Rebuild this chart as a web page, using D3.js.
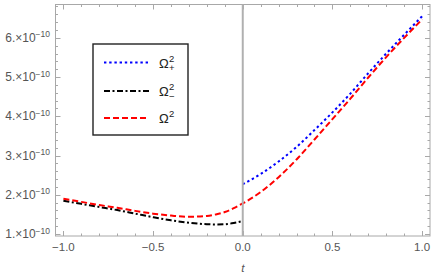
<!DOCTYPE html>
<html><head><meta charset="utf-8">
<script src="https://cdn.jsdelivr.net/npm/d3@7"></script>
<style>
html,body{margin:0;padding:0;background:#fff;}
svg{display:block;font-family:"Liberation Sans",Arial,sans-serif;}
</style></head>
<body>
<svg id="chart" width="436" height="280"></svg>
<script>
// ---- data (values in units of 1e-10) ----
const tLeft = [-1.0, -0.9, -0.8, -0.7, -0.6, -0.5, -0.4, -0.3, -0.2, -0.15, -0.1, -0.05, 0.0];
const omegaMinusSq = [1.85, 1.77, 1.69, 1.61, 1.52, 1.43, 1.35, 1.29, 1.25, 1.245, 1.25, 1.28, 1.33];
const omegaSqLeft = [1.90, 1.82, 1.74, 1.67, 1.59, 1.52, 1.47, 1.44, 1.46, 1.50, 1.56, 1.66, 1.78];
const tRight = [0.0, 0.1, 0.2, 0.3, 0.4, 0.5, 0.6, 0.7, 0.8, 0.9, 1.0];
const omegaPlusSq = [2.27, 2.53, 2.85, 3.22, 3.65, 4.10, 4.58, 5.10, 5.60, 6.08, 6.55];
const omegaSqRight = [1.78, 2.07, 2.45, 2.90, 3.41, 3.93, 4.45, 4.99, 5.51, 6.00, 6.47];
const xTicks = [-1.0, -0.5, 0.0, 0.5, 1.0];
const xTickLabels = ["\u22121.0", "\u22120.5", "0.0", "0.5", "1.0"];
const yTicks = [1, 2, 3, 4, 5, 6];
const yTickLabels = ["1.", "2.", "3.", "4.", "5.", "6."];
const legendLabels = [
  {base: "\u03A9", sup: "2", sub: "+"},
  {base: "\u03A9", sup: "2", sub: "\u2212"},
  {base: "\u03A9", sup: "2", sub: ""}
];
const xLabel = "t";

// ---- layout ----
const svg = d3.select("#chart");
const L = 55.5, R = 430, T = 4.5, B = 236;
const x = d3.scaleLinear().domain([-1.044, 1.044]).range([L, R]);
const y = d3.scaleLinear().domain([0.95, 6.85]).range([B, T]);
const frameColor = "#a8a8a8";
const textColor = "#555";

// frame
svg.append("rect").attr("x", L).attr("y", T).attr("width", R - L).attr("height", B - T)
  .attr("fill", "none").attr("stroke", frameColor).attr("stroke-width", 1);

// ticks
const xMinor = d3.range(-1.0, 1.0001, 0.1).map(v => +v.toFixed(2));
const yMinor = d3.range(1.0, 6.8001, 0.2).map(v => +v.toFixed(2));
const tickG = svg.append("g").attr("stroke", frameColor).attr("stroke-width", 1);
xMinor.forEach(v => {
  const major = xTicks.some(m => Math.abs(m - v) < 1e-6);
  const len = major ? 5 : 2.5;
  const px = Math.round(x(v)) + 0.5;
  tickG.append("line").attr("x1", px).attr("x2", px).attr("y1", B).attr("y2", B - len);
  tickG.append("line").attr("x1", px).attr("x2", px).attr("y1", T).attr("y2", T + len);
});
yMinor.forEach(v => {
  const major = yTicks.some(m => Math.abs(m - v) < 1e-6);
  const len = major ? 5 : 2.5;
  const py = Math.round(y(v)) + 0.5;
  tickG.append("line").attr("y1", py).attr("y2", py).attr("x1", L).attr("x2", L + len);
  tickG.append("line").attr("y1", py).attr("y2", py).attr("x1", R).attr("x2", R - len);
});

// x tick labels
svg.append("g").selectAll("text").data(xTicks).join("text")
  .attr("x", d => x(d)).attr("y", 250.5).attr("text-anchor", "middle")
  .attr("font-size", 11.5).attr("fill", textColor)
  .text((d, i) => xTickLabels[i]);

// y tick labels
yTicks.forEach((v, i) => {
  const t = svg.append("text").attr("x", 50).attr("y", y(v) + 4)
    .attr("text-anchor", "end").attr("font-size", 12).attr("fill", textColor);
  t.append("tspan").text(yTickLabels[i] + "\u00D710");
  t.append("tspan").attr("font-size", 8.5).attr("dy", -4.5).text("\u221210");
});

// x axis label
svg.append("text").attr("x", x(0)).attr("y", 272).attr("text-anchor", "middle")
  .attr("font-size", 11.5).attr("font-style", "italic").attr("fill", textColor).text(xLabel);

// curves
const line = d3.line().x(d => x(d[0])).y(d => y(d[1])).curve(d3.curveMonotoneX);
const redData = tLeft.map((t, i) => [t, omegaSqLeft[i]]).concat(tRight.slice(1).map((t, i) => [t, omegaSqRight[i + 1]]));
const blackData = tLeft.map((t, i) => [t, omegaMinusSq[i]]);
const blueData = tRight.map((t, i) => [t, omegaPlusSq[i]]);

const styles = [
  {color: "#0000ff", dash: "2.4,2.8"},
  {color: "#000000", dash: "6,2.5,2,2.5"},
  {color: "#ff0000", dash: "6,3"}
];
const plotG = svg.append("g");
plotG.append("path").datum(blackData).attr("d", line).attr("fill", "none")
  .attr("stroke", styles[1].color).attr("stroke-width", 2).attr("stroke-dasharray", styles[1].dash);
plotG.append("path").datum(redData).attr("d", line).attr("fill", "none")
  .attr("stroke", styles[2].color).attr("stroke-width", 2).attr("stroke-dasharray", styles[2].dash);
plotG.append("path").datum(blueData).attr("d", line).attr("fill", "none")
  .attr("stroke", styles[0].color).attr("stroke-width", 2).attr("stroke-dasharray", styles[0].dash);

// vertical axis at t=0
svg.append("line").attr("x1", x(0)).attr("x2", x(0)).attr("y1", T).attr("y2", B)
  .attr("stroke", "#b0b0b0").attr("stroke-width", 2);

// legend
const lg = svg.append("g");
lg.append("rect").attr("x", 93).attr("y", 44).attr("width", 95).attr("height", 91)
  .attr("fill", "#fff").attr("stroke", "#222").attr("stroke-width", 1.4);
const rowsY = [62.5, 91, 118];
legendLabels.forEach((lab, i) => {
  lg.append("line").attr("x1", 104).attr("x2", 149).attr("y1", rowsY[i]).attr("y2", rowsY[i])
    .attr("stroke", styles[i].color).attr("stroke-width", 2).attr("stroke-dasharray", styles[i].dash);
  const g = lg.append("g");
  g.append("text").attr("x", 159).attr("y", rowsY[i] + 5).attr("font-size", 13).attr("fill", "#222").text(lab.base);
  g.append("text").attr("x", 169).attr("y", rowsY[i] - 1).attr("font-size", 9.5).attr("fill", "#222").text(lab.sup);
  if (lab.sub) g.append("text").attr("x", 169).attr("y", rowsY[i] + 8.5).attr("font-size", 9.5).attr("fill", "#222").text(lab.sub);
});
</script>
</body></html>
